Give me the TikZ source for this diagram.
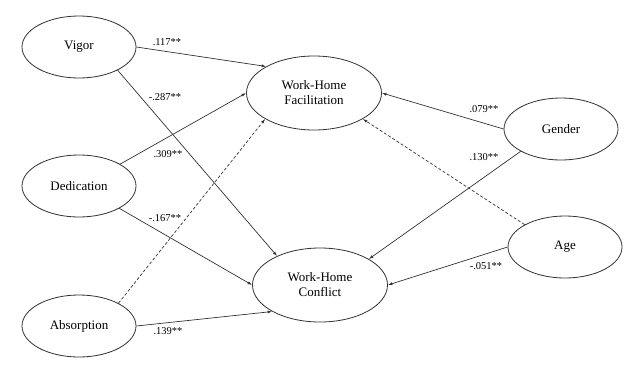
\documentclass[tikz,border=0pt]{standalone}
\usepackage{fontspec}
\setmainfont{Liberation Serif}
\usetikzlibrary{shapes.geometric,arrows.meta}
\begin{document}
\begin{tikzpicture}[x=1pt,y=-1pt,
  latent/.style={ellipse,draw=black!80,line width=0.8pt,inner sep=0pt,font=\fontsize{13}{15}\selectfont,align=center},
  small/.style={latent,minimum width=114pt,minimum height=62pt},
  big/.style={latent,minimum width=135pt,minimum height=74pt},
  path/.style={draw=black!80,line width=0.7pt,-{Latex[length=4.5pt,width=3pt]}},
  dpath/.style={path,dash pattern=on 3pt off 2pt},
  coef/.style={font=\fontsize{10.5}{12}\selectfont,inner sep=0pt}]
\useasboundingbox (0,0) rectangle (640,370);
\node[small] (vig) at (79,47) {Vigor};
\node[small] (ded) at (79,186) {Dedication};
\node[small] (abs) at (79,326) {Absorption};
\node[big] (whf) at (314,93) {Work-Home\\Facilitation};
\node[big] (whc) at (320,285) {Work-Home\\Conflict};
\node[small] (gen) at (561,129) {Gender};
\node[small] (age) at (565,247) {Age};
\draw[path] (vig.0) -- (whf.151);
\draw[path] (vig.-31) -- (whc.146);
\draw[path] (ded.28) -- (whf.180);
\draw[path] (ded.-29) -- (whc.180);
\draw[dpath] (abs.30) -- (whf.208);
\draw[path] (abs.0) -- (whc.209);
\draw[path] (gen.180) -- (whf.0);
\draw[path] (gen.209) -- (whc.28);
\draw[dpath] (age.151) -- (whf.-28);
\draw[path] (age.180) -- (whc.0);
\node[coef] (c1) at (167,42) {.117**};
\node[coef] (c2) at (165,97) {-.287**};
\node[coef] (c3) at (168,154) {.309**};
\node[coef] (c4) at (165,218) {-.167**};
\node[coef] (c5) at (168,331) {.139**};
\node[coef] (c6) at (484,109) {.079**};
\node[coef] (c7) at (484,157) {.130**};
\node[coef] (c8) at (486,266) {-.051**};
\end{tikzpicture}
\end{document}
